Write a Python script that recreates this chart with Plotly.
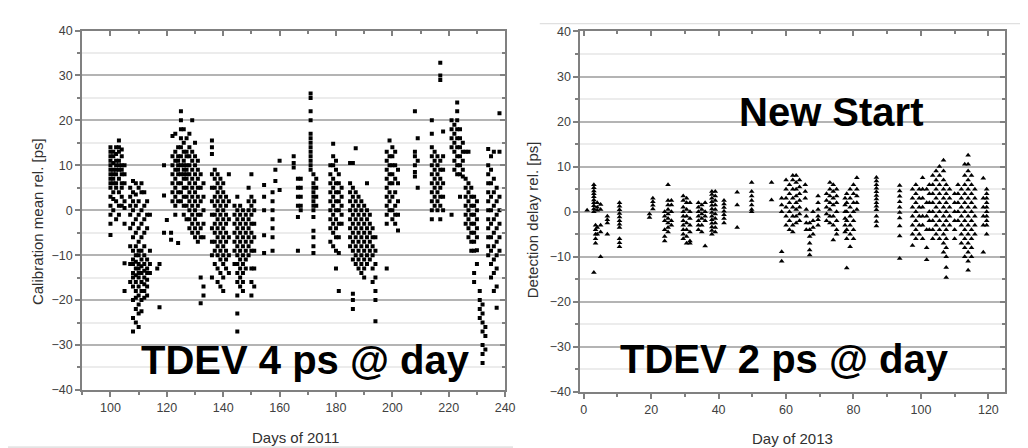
import plotly.graph_objects as go

# ---------------- data ----------------
left_days = [100, 101, 102, 103, 104, 105, 107, 108, 109, 110, 111, 112, 113, 114, 116.6, 117.4,
             119, 120, 121.5, 122, 123, 124, 125, 126, 127, 128, 129, 130, 131, 132, 133,
             136, 137, 138, 139, 140, 141, 142, 144, 145, 146, 147, 148, 149, 150, 151,
             154.5, 157.5, 158.5, 160, 165, 166.5, 167.5, 171, 172, 173,
             178, 179, 180, 181, 182, 185, 186, 187, 188, 189, 190, 191, 192, 193, 194,
             198, 199, 200, 201, 202, 208, 209, 214, 215, 216, 217, 218,
             221, 222, 223, 224, 225, 226, 227, 228, 229, 230, 231, 232, 233,
             234, 235, 236, 237, 238]
left_values = [
    [14, 13, 12, 11, 10, 9, 8, 7, 6, 5, 3, 1, -1, -3, -5.5],
    [13, 12, 10.5, 9, 8, 7, 6, 4, 2.5, 0],
    [14, 12.5, 11, 10, 9, 8, 6, 5, 2, -2],
    [15.5, 14, 13, 11, 10, 9, 7, 4, 1, -1],
    [13.5, 12, 10, 9, 8, 6, 5, 3, 1],
    [10, 8, 6, 2, 0.5, -3, -11.8, -18],
    [5, 3, 1, -1, -4, -8, -12, -16],
    [6.5, 4, 2, 0, -3, -6, -9, -11, -12, -14, -15, -17, -20, -24, -27],
    [6, 3.5, 1, -2, -5, -8, -10, -11.5, -13, -14.5, -16, -18, -19.5, -22, -25],
    [5, 2, -1, -4, -7, -9, -10, -12, -13, -14, -15, -17, -19, -21, -23, -26],
    [6, 4, 0, -3, -6, -9, -11, -12.5, -14, -16, -18, -20, -22.5],
    [4, 1, -2, -5, -8, -10, -12, -13.5, -15, -16.5, -18, -19.5],
    [2, -1, -4, -11, -13, -14, -15.5, -17, -19],
    [-1, -9, -12, -14],
    [-13],
    [-12, -21.6],
    [10, 3.3, -5],
    [-2.2],
    [-5, -6.6],
    [16.5, 12, 10, 8, 6, 4, 2],
    [17, 13, 11, 9, 7, 5, 3, 1, -1],
    [14, 12, 11, 10, 9, 8, 6, 4, 2, -7.3],
    [22, 20, 18, 16, 14, 12, 10, 8, 6, 4, 2],
    [18, 15, 13, 11, 10, 9, 8, 7, 5, 3, 1, -1],
    [16, 13, 12, 10, 9, 8, 7, 5, 3, 1, -2],
    [17, 14, 12, 10, 8, 6, 4, 2, 0, -2, -4],
    [20, 13, 11, 9, 7, 5, 3, 1, -1, -3, -5],
    [15, 12, 10, 8, 6, 4, 2, 0, -2, -4, -6],
    [11, 9, 7, 5, 3, 1, -1, -3, -5, -7],
    [8, 5, 2, -1, -4, -6, -15, -20.7],
    [6, 3, 0, -3, -6, -17, -19],
    [15.5, 14, 12.5, 8, 5, 2, -1, -4, -7, -10, -15],
    [9, 7, 5, 3, 1, -1, -3, -5, -7, -9, -12],
    [8, 6, 4, 2, 0, -2, -4, -6, -8, -10, -13, -16],
    [7, 5, 3, 1, -1, -3, -5, -7, -9, -11, -14, -17],
    [6, 4, 2, 0, -2, -4, -6, -8, -10, -12, -15, -18],
    [3, 1, -1, -3, -5, -7, -9, -11, -13],
    [8, 2, -2, -6, -10, -14],
    [1, -1, -3, -5, -7, -9, -12],
    [3, 0, -2, -4, -6, -8, -10, -12, -14, -16, -19, -23, -27],
    [1, -1, -3, -5, -7, -9, -11, -13, -15, -17],
    [0, -2, -4, -6, -8, -10, -12, -14, -16, -18],
    [-1, -3, -5, -7, -9, -11, -13],
    [5, 2, 0, -2, -4, -6, -8, -10],
    [8, 3, 1, -1, -3, -5, -7, -9, -13, -16, -19],
    [2, 0, -3, -6, -9, -13, -17],
    [5.6, 3, 0, -5.6, -9.5],
    [4, 2, 0, -2, -4, -6, -9],
    [9, 6.5],
    [11, 4.5],
    [12, 10.5, 9.5],
    [7, 5, 3, 1, -1.5, -9],
    [7, 5, 3, 1, 0],
    [26, 25, 22, 20, 17, 16, 15, 14, 13, 12, 11, 10, 9],
    [8, 6, 5, 4, 3, 2, 1, 0, -1.5, -4.6, -6, -8, -9.5],
    [7, 5, 3, 1],
    [10, 8, 6, 4, 2, 0, -2, -4, -7],
    [14.8, 12, 10, 7, 5, 3, 1, -1, -3, -5, -8],
    [11, 9, 6, 4, 2, 0, -2, -4, -6, -9, -13],
    [8, 6, 4, 2, 0, -3, -6, -9.5, -18],
    [5, 3, 1, -1, -3],
    [10.5, 6, 4, 2, 0, -2, -4, -6, -8],
    [10.5, 5, 3, 1, -1, -3, -5, -7, -9, -11, -18.6, -20, -22],
    [13.8, 4, 2, 0, -2, -4, -6, -8, -10, -12],
    [3, 1, -1, -3, -5, -7, -9, -11, -13],
    [2, 0, -2, -4, -6, -8, -10, -12, -14],
    [1, -1, -3, -5, -7, -9, -11, -13, -15],
    [6, 0, -2, -4, -6, -8, -10, -12],
    [-1, -3, -5, -7, -9, -11],
    [-4, -6, -8, -10, -13, -16],
    [-6, -9, -12, -15, -18, -20, -24.7],
    [13, 11, 9, 7, 5, 3, 1, -1, -3, -13],
    [15.5, 12, 10, 8, 6, 4, 2, 0],
    [14, 12, 10, 8, 6, 3, 0, -2],
    [13, 10, 7, 4, 1, -1, -3],
    [9, 6, 2, -1, -4.5],
    [22, 13, 12, 10, 8.5, 7.5],
    [16, 11, 5],
    [20, 17, 14, 12, 10, 8, 6, 4, 2, 0, -2],
    [13, 11, 9, 7, 5, 3, 1],
    [12, 10, 8, 6, 4, 2, 0],
    [32.8, 30, 29, 11, 9, 7, 5, 3, 1, -2],
    [17.5, 12, 9, 6, 3, 0],
    [20, 18, 16, 14, -1],
    [19, 17, 15, 13, 11, 9],
    [24, 22, 20, 18, 16, 14, 12, 10, 8],
    [18, 16, 14, 12, 10, 8, 3],
    [15, 13, 11, 9, 7.5],
    [13, 7, 5, 3, 1, -1, -3],
    [13, 6, 4, 2, 0, -2, -4, -6],
    [5, 3, 1, -1, -3, -5, -7, -9],
    [3, 1, -1, -3, -5, -7, -9, -14, -16],
    [2, 0, -2, -4, -6, -8.9, -12],
    [-18, -20, -22, -24],
    [-21, -23, -25, -27, -30, -32, -34],
    [-26, -28, -31],
    [13.6, 10, 8, 6, 4, 2, 0, -2, -4, -6, -8, -10],
    [12, 9, 6, 3, 0, -3, -6, -9, -12, -15],
    [13, 7, 4, 1, -2, -5, -8, -11, -14, -18],
    [5, 2, -1, -4, -7, -10, -13, -17, -21.7],
    [21.6, 13, 3, 0, -3, -6, -9],
]

right_days = [1, 3, 3.5, 4, 5, 7, 10.6, 19.5, 20.5, 24, 25, 26, 29.5, 30.5, 31.5, 34, 35, 36,
              38, 39, 41.6, 45.5, 49.8, 55.7, 58.7, 60, 61, 62, 63, 64, 65.7, 66, 67, 68,
              69.5, 72, 73, 74, 75, 77.5, 78, 79, 80, 81, 86.8, 93.7, 97.5, 98.5, 99.5,
              100.5, 101.7, 102.5, 103.5, 104.5, 105.5, 106.7, 107.5, 108.5, 110, 111,
              112, 113, 114, 115, 116, 118.5, 119.5]
right_values = [
    [0.3],
    [6, 5.3, 4.6, 4, 3.3, 2.6, 2, 1.3, 0.6, 0, -13.5],
    [-3, -4, -5, -6, -7],
    [2, 1, 0.3, -3.5, -5],
    [1.6, 0.5, -3, -4.5, -10],
    [-1, -1.8, -2.5, -5],
    [2, 1.2, 0.4, -0.4, -1.2, -2, -2.8, -3.5, -6, -6.9, -7.8],
    [-0.5, -1.3],
    [3, 2.2, 1.4, 0.6],
    [0, -1, -2, -4, -5.5, -6.5],
    [6, 2.5, 1.5, 0.5, -0.5, -1.5, -2.5, -3.5, -4.5],
    [2.5, 1.5, 0, -2, -3],
    [3.5, 2.5, 1, 0, -1, -2, -3, -4, -5, -6],
    [3, 2, 0.5, -1, -2.5, -4, -5.5, -7],
    [2, 0, -1.5, -3, -4.5, -6.5, -7],
    [2, 1, 0, -1, -2, -3, -4],
    [1.5, 0.5, -0.5, -1.5, -3, -4.5],
    [2, 0, -1, -2, -7.6],
    [4.5, 3.8, 3, 2.2, 1.4, 0.6, -0.2, -1, -1.8, -2.6, -3.4, -4.2, -5],
    [4.5, 3.5, 2.5, 1.5, 0.5, -0.5, -1.5, -2.5, -3.5, -4.5],
    [2.5, 1.7, 0.9, 0.1, -0.7, -1.5, -2.5],
    [4.3, 1.5, -3.5],
    [6.5, 4.5, 3.5, 2.5, 1.5, 0.5, 0],
    [6.5, 2.6],
    [3, 1.5, 0, -8.9, -11],
    [7, 5, 3, 1, -1, -3],
    [6, 4, 2, 0, -2, -4],
    [8, 7, 5, 3, 1, -1, -3, -4.5],
    [8, 6.5, 5, 3.5, 2, 0.5, -1, -2.5],
    [7, 5.5, 4, 2.5, 1, -0.5, -2],
    [6, 4.5, 3],
    [0.5, -1, -2.5, -4],
    [-2.5, -4, -5.5, -7, -8.5, -9.6],
    [0, -2, -3.5, -5],
    [3.5, 2, 0.5, -1, -1.8, -3],
    [4, 2.5, 1, -0.5, -2],
    [6.5, 5, 3.5, 2, 0.5, -1, -2.5],
    [6, 4.5, 3, 1.5, -1, -3, -6.3],
    [5, 3.5, 2, 0, -2, -4, -5],
    [3, 1.5, 0, -1.5, -3, -4.5],
    [4, 2, 0, -2, -4, -6, -12.5],
    [5, 3, 1, -1, -3, -5, -7.8],
    [6, 4, 2, 0, -2, -4, -6],
    [7.5, 5, 3.5, 2, 0.5],
    [7.6, 6.8, 6, 5.2, 4.4, 3.6, 2.8, 2, 1.2, 0.4, -1, -2.2, -3.2],
    [5.8, 4.6, 3.4, 2.2, 1, -0.2, -1.4, -3.2, -5.4, -10.4],
    [5, 3, 1, -1, -3, -5, -7.5],
    [6, 4, 2, 0, -2, -4, -6],
    [5, 3, 1, -1, -3, -5],
    [7.5, 5, 3, 1, -1, -3, -6],
    [5, 2, -1, -4, -8, -10.7],
    [6, 4, 2, 0, -2, -4],
    [8, 6, 4, 2, 0, -2, -4, -6],
    [9, 7, 5, 3, 1, -1, -3, -5],
    [10, 8, 6, 4, 2, 0, -2, -4, -6],
    [11.4, 9, 7, 5, 3, 1, -1, -3, -5, -7, -9],
    [6, 4, 2, 0, -2, -4, -6, -8, -10, -12.4, -14.6],
    [5, 3, 1, -1, -3],
    [4, 2, 0, -2, -4, -6],
    [6, 4, 2, 0, -2],
    [5, 3, 1, -1, -3, -5, -7],
    [10.5, 8, 6, 4, 2, 0, -2, -4, -6, -8, -10],
    [12.5, 10.5, 9, 7, 5, 3, 1, -1, -3, -5, -7, -9, -11, -13],
    [8, 6, 4, 2, 0, -2, -4, -6, -8, -10],
    [5, 3, 1, -1, -3, -5],
    [7.4, 3, 1, -1, -3, -9],
    [5, 4, 3, 2, 1, 0, -1, -2, -3, -5],
]

left_x_title = "Days of 2011"
left_y_title = "Calibration mean rel. [ps]"
right_x_title = "Day of 2013"
right_y_title = "Detection delay rel. [ps]"
left_label = "TDEV 4 ps @ day"
right_label = "TDEV 2 ps @ day"
right_header = "New Start"


def flatten(days, values):
    xs, ys = [], []
    for d, vals in zip(days, values):
        for v in vals:
            xs.append(d)
            ys.append(v)
    return xs, ys


lx, ly = flatten(left_days, left_values)
rx, ry = flatten(right_days, right_values)

W, H = 1028, 448
FONT = "Liberation Sans, Arial, sans-serif"

fig = go.Figure()
fig.add_trace(go.Scatter(x=lx, y=ly, mode="markers", xaxis="x", yaxis="y",
                         marker=dict(symbol="square", size=4, color="black"),
                         showlegend=False))
fig.add_trace(go.Scatter(x=rx, y=ry, mode="markers", xaxis="x2", yaxis="y2",
                         marker=dict(symbol="triangle-up", size=5, color="black"),
                         showlegend=False))


def px_x(p):
    return p / W


def px_y(p):
    return 1 - p / H


axcol = "#808080"
tickfont = dict(family=FONT, size=12.5, color="#404040")


def yaxis_cfg(dom, anchor):
    return dict(domain=dom, anchor=anchor, range=[-40, 40], dtick=10, tick0=0,
                showline=True, linecolor=axcol, linewidth=2, mirror=True,
                ticks="outside", ticklen=5, tickcolor=axcol, tickwidth=1.5,
                showgrid=True, gridcolor="#b4b4b4", gridwidth=1.5,
                zeroline=False, tickfont=tickfont,
                minor=dict(dtick=5, ticks="outside", ticklen=3, tickcolor=axcol,
                           showgrid=True, gridcolor="#ececec", gridwidth=1.5))


def xaxis_cfg(dom, anchor, rng, dtick):
    return dict(domain=dom, anchor=anchor, range=rng, dtick=dtick, tick0=0,
                showline=True, linecolor=axcol, linewidth=2, mirror=True,
                ticks="outside", ticklen=5, tickcolor=axcol, tickwidth=1.5,
                showgrid=False, zeroline=False, tickfont=tickfont,
                minor=dict(dtick=dtick / 2, ticks="outside", ticklen=3, tickcolor=axcol))


def top_cfg(over, anchor, rng, dtick):
    return dict(overlaying=over, anchor=anchor, side="top", range=rng, dtick=dtick, tick0=0,
                showline=False, ticks="inside", ticklen=5, tickcolor=axcol, tickwidth=1.5,
                showticklabels=False, showgrid=False, zeroline=False,
                minor=dict(dtick=dtick / 2, ticks="inside", ticklen=3, tickcolor=axcol))


def right_cfg(over, anchor):
    return dict(overlaying=over, anchor=anchor, side="right", range=[-40, 40], dtick=10,
                tick0=0, showline=False, ticks="inside", ticklen=5, tickcolor=axcol,
                tickwidth=1.5, showticklabels=False, showgrid=False, zeroline=False,
                minor=dict(dtick=5, ticks="inside", ticklen=3, tickcolor=axcol))


fig.update_layout(
    width=W, height=H, autosize=False,
    margin=dict(l=0, r=0, t=0, b=0),
    paper_bgcolor="white", plot_bgcolor="white",
    xaxis=xaxis_cfg([px_x(75), px_x(502)], "y", [90, 240], 20),
    yaxis=yaxis_cfg([px_y(387), px_y(16)], "x"),
    xaxis2=xaxis_cfg([px_x(578), px_x(1007)], "y2", [-1, 125], 20),
    yaxis2=yaxis_cfg([px_y(389), px_y(17)], "x2"),
    xaxis3=top_cfg("x", "y", [90, 240], 20),
    xaxis4=top_cfg("x2", "y2", [-1, 125], 20),
    yaxis3=right_cfg("y", "x"),
    yaxis4=right_cfg("y2", "x2"),
)

# invisible helper traces so the mirrored tick axes are drawn
fig.add_trace(go.Scatter(x=[None], y=[None], xaxis="x3", yaxis="y3", showlegend=False,
                         hoverinfo="skip"))
fig.add_trace(go.Scatter(x=[None], y=[None], xaxis="x4", yaxis="y4", showlegend=False,
                         hoverinfo="skip"))


def note(text, xp, yp, font, angle=0):
    return dict(text=text, x=px_x(xp), y=px_y(yp), xref="paper", yref="paper",
                xanchor="center", yanchor="middle", showarrow=False,
                textangle=angle, font=font)


titlefont = dict(family=FONT, size=15, color="#303030")
bigfont = dict(family=FONT, size=40, color="black")
ann = [
    note(left_x_title, 290, 436, titlefont),
    note(right_x_title, 792, 437, titlefont),
    note(left_y_title, 30, 213, titlefont, -90),
    note(right_y_title, 530, 211, titlefont, -90),
    note("<b>%s</b>" % left_label, 300, 356, bigfont),
    note("<b>%s</b>" % right_label, 784, 355, bigfont),
    note("<b>%s</b>" % right_header, 832, 100, bigfont),
]
fig.update_layout(annotations=ann)

fig.update_layout(shapes=[
    dict(type="line", xref="paper", yref="paper", x0=0, x1=px_x(510),
         y0=px_y(446), y1=px_y(446), line=dict(color="#d0d0d0", width=1)),
    dict(type="line", xref="paper", yref="paper", x0=px_x(537), x1=1,
         y0=px_y(9), y1=px_y(9), line=dict(color="#d8d8d8", width=1)),
])

fig.write_html("out.html")
